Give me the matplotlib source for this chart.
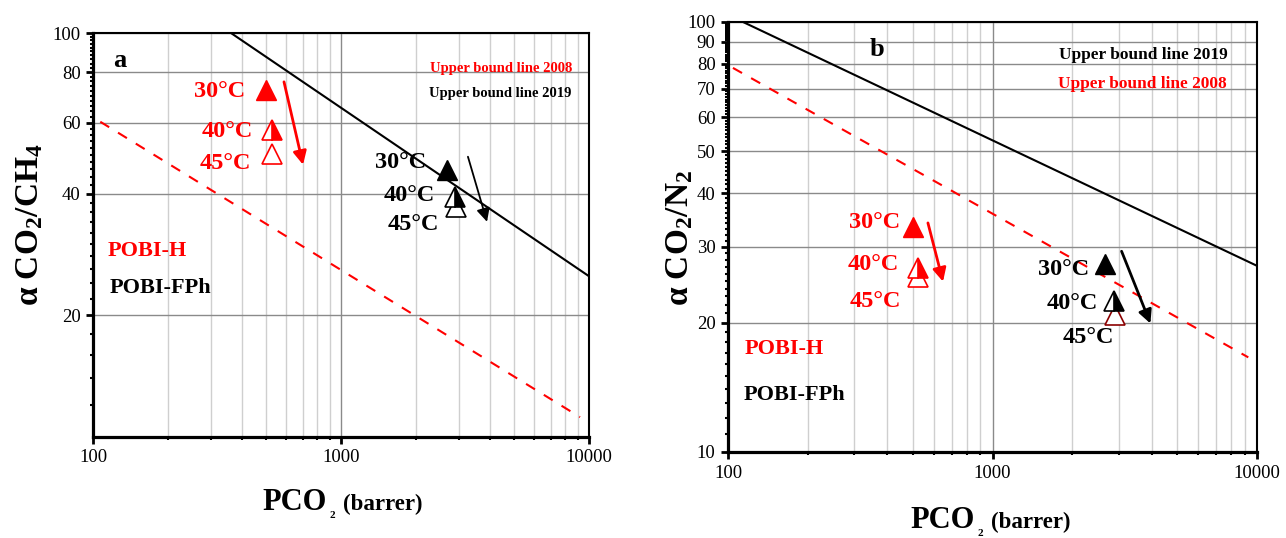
import matplotlib
matplotlib.use("Agg")
import matplotlib.pyplot as plt
from matplotlib.ticker import FixedLocator, NullFormatter

plt.rcParams['font.family'] = ['Liberation Serif', 'DejaVu Serif']
plt.rcParams['mathtext.default'] = 'regular'

# panel a : CO2/CH4
bound2019_a_x = [360, 10000]
bound2019_a_y = [100, 25]
bound2008_a_x = [107, 9200]
bound2008_a_y = [60.3, 11.2]
pobih_a_p = [500, 527, 527]
pobih_a_sel = [72.3, 57.4, 50.2]
pobifph_a_p = [2672, 2877, 2900]
pobifph_a_sel = [45.9, 39.3, 37.2]
arrow_red_a = [(589, 75.7), (703, 47.2)]
arrow_blk_a = [(3250, 49.4), (3880, 34.1)]

# panel b : CO2/N2
bound2019_b_x = [114, 10000]
bound2019_b_y = [100, 27.1]
bound2008_b_x = [104.4, 9270]
bound2008_b_y = [78.2, 16.6]
pobih_b_p = [499, 524, 524]
pobih_b_sel = [33.4, 26.8, 25.5]
pobifph_b_p = [2674, 2873, 2917]
pobifph_b_sel = [27.4, 22.4, 20.8]
arrow_red_b = [(570, 34.1), (650, 24.9)]
arrow_blk_b = [(3076, 29.3), (3954, 19.9)]

temps = ['30°C', '40°C', '45°C']
xticks = [100, 1000, 10000]
xminor = [m * d for d in (100, 1000) for m in range(2, 10)]
yticks_a = [20, 40, 60, 80, 100]
yticks_b = [10, 20, 30, 40, 50, 60, 70, 80, 90, 100]

fig = plt.figure(figsize=(12.86, 5.38), dpi=100)
axa = fig.add_axes([93/1286, 1-437/538, 496/1286, 404/538])
axb = fig.add_axes([728/1286, 1-452/538, 529/1286, 430/538])


def style(ax, yticks, yminor):
    ax.set_xscale('log')
    ax.set_yscale('log')
    ax.set_xlim(100, 10000)
    ax.set_ylim(10, 100)
    ax.xaxis.set_major_locator(FixedLocator(xticks))
    ax.xaxis.set_minor_locator(FixedLocator(xminor))
    ax.set_xticklabels([str(t) for t in xticks])
    ax.yaxis.set_major_locator(FixedLocator(yticks))
    ax.yaxis.set_minor_locator(FixedLocator(yminor))
    ax.set_yticklabels([str(t) for t in yticks])
    ax.xaxis.set_minor_formatter(NullFormatter())
    ax.yaxis.set_minor_formatter(NullFormatter())
    ax.tick_params(which='major', direction='out', length=5, width=2,
                   labelsize=13.5, pad=4, top=False, right=False)
    ax.tick_params(which='minor', direction='out', length=2.5, width=1.5,
                   top=False, right=False)
    ax.grid(True, which='major', color='#8a8a8a', lw=1)
    ax.grid(True, which='minor', axis='x', color='#cfcfcf', lw=1)
    ax.set_axisbelow(True)
    for s in ('left', 'bottom'):
        ax.spines[s].set_linewidth(2.3)
    for s in ('top', 'right'):
        ax.spines[s].set_linewidth(1.5)


style(axa, yticks_a, [v for v in range(12, 100, 2) if v not in yticks_a])
style(axb, yticks_b, [v for v in range(11, 100) if v not in yticks_b])


def points(ax, p, sel, col, altedge):
    ax.plot(p[0], sel[0], '^', ms=14.5, color=col, mec=col, zorder=5)
    ax.plot(p[1], sel[1], '^', ms=14.5, color=col, mec=col, fillstyle='right',
            markerfacecoloralt='white', mew=1.2, zorder=5)
    ax.plot(p[2], sel[2], '^', ms=14.5, mfc='white', mec=altedge, mew=1.2, zorder=4)


def tlabels(ax, p, sel, col, offs):
    for t, x, y, (dx, dy) in zip(temps, p, sel, offs):
        ax.annotate(t, (x, y), xytext=(dx, dy), textcoords='offset points',
                    ha='right', va='center_baseline', color=col,
                    fontsize=17.5, fontweight='bold', zorder=6)


def arrow(ax, pts, col, lw):
    ax.annotate('', xy=pts[1], xytext=pts[0],
                arrowprops=dict(arrowstyle='-|>', color=col, lw=lw,
                                mutation_scale=20, shrinkA=0, shrinkB=0))


# panel a
axa.plot(bound2019_a_x, bound2019_a_y, color='black', lw=1.5)
axa.plot(bound2008_a_x, bound2008_a_y, color='red', lw=1.5, ls=(0, (5, 5)))
points(axa, pobih_a_p, pobih_a_sel, 'red', 'red')
points(axa, pobifph_a_p, pobifph_a_sel, 'black', 'black')
tlabels(axa, pobih_a_p, pobih_a_sel, 'red', [(-15, 1), (-14, 1), (-15, -5)])
tlabels(axa, pobifph_a_p, pobifph_a_sel, 'black', [(-15, 7), (-14, 3), (-12, -11)])
arrow(axa, arrow_red_a, 'red', 2)
arrow(axa, arrow_blk_a, 'black', 1.3)
axa.text(0.054, 0.933, 'a', transform=axa.transAxes, fontsize=19,
         fontweight='bold', ha='center', va='center')
axa.text(0.966, 0.913, 'Upper bound line 2008', transform=axa.transAxes,
         color='red', fontsize=10.5, fontweight='bold', ha='right', va='center')
axa.text(0.964, 0.851, 'Upper bound line 2019', transform=axa.transAxes,
         color='black', fontsize=10.5, fontweight='bold', ha='right', va='center')
axa.text(0.030, 0.460, 'POBI-H', transform=axa.transAxes, color='red',
         fontsize=16, fontweight='bold', ha='left', va='center')
axa.text(0.034, 0.369, 'POBI-FPh', transform=axa.transAxes, color='black',
         fontsize=16, fontweight='bold', ha='left', va='center')

# panel b
axb.plot(bound2019_b_x, bound2019_b_y, color='black', lw=1.5)
axb.plot(bound2008_b_x, bound2008_b_y, color='red', lw=1.5, ls=(0, (5, 5)))
points(axb, pobih_b_p, pobih_b_sel, 'red', 'red')
points(axb, pobifph_b_p, pobifph_b_sel, 'black', '#8b0000')
tlabels(axb, pobih_b_p, pobih_b_sel, 'red', [(-9, 5), (-14, 4), (-12, -16)])
tlabels(axb, pobifph_b_p, pobifph_b_sel, 'black', [(-12, -2), (-11, 0), (-1, -14)])
arrow(axb, arrow_red_b, 'red', 2)
arrow(axb, arrow_blk_b, 'black', 2)
axb.text(0.282, 0.937, 'b', transform=axb.transAxes, fontsize=19,
         fontweight='bold', ha='center', va='center')
axb.text(0.945, 0.923, 'Upper bound line 2019', transform=axb.transAxes,
         color='black', fontsize=12.4, fontweight='bold', ha='right', va='center')
axb.text(0.943, 0.856, 'Upper bound line 2008', transform=axb.transAxes,
         color='red', fontsize=12.4, fontweight='bold', ha='right', va='center')
axb.text(0.032, 0.240, 'POBI-H', transform=axb.transAxes, color='red',
         fontsize=16, fontweight='bold', ha='left', va='center')
axb.text(0.030, 0.133, 'POBI-FPh', transform=axb.transAxes, color='black',
         fontsize=16, fontweight='bold', ha='left', va='center')

# axis titles
fig.text(30/1286, 1-225/538, 'α CO$_2$/CH$_4$', rotation=90, fontsize=24,
         fontweight='bold', ha='center', va='center')
fig.text(680/1286, 1-238/538, 'α CO$_2$/N$_2$', rotation=90, fontsize=24,
         fontweight='bold', ha='center', va='center')
for xe, base in ((327, 510), (975, 528)):
    fig.text(xe/1286, 1-base/538, 'PCO', fontsize=22, fontweight='bold',
             ha='right', va='baseline')
    fig.text((xe+2)/1286, 1-(base+1)/538, '2', fontsize=8, fontweight='bold',
             ha='left', va='top')
    fig.text((xe+16)/1286, 1-base/538, '(barrer)', fontsize=16.5,
             fontweight='bold', ha='left', va='baseline')

fig.savefig('out.png', dpi=100)
